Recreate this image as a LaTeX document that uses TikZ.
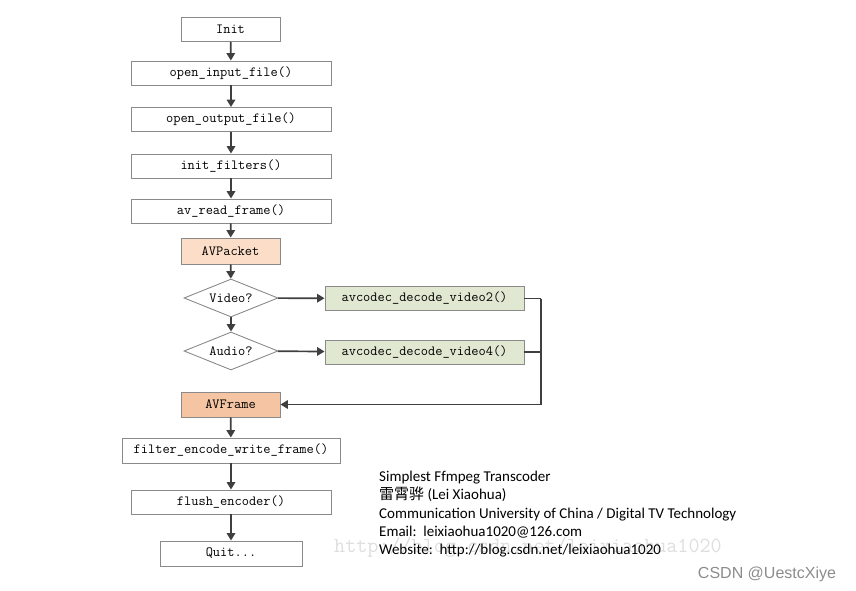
\documentclass[tikz,border=0pt]{standalone}
\usepackage{fontspec}
\newfontfamily\cjk{Noto Sans CJK SC}
\newfontfamily\notefont{Carlito}
\newfontfamily\markfont{Liberation Sans}
\usetikzlibrary{shapes.geometric,arrows.meta}
\definecolor{packetfill}{HTML}{FBDDC8}
\definecolor{framefill}{HTML}{F5C5A3}
\definecolor{decodefill}{HTML}{E1E8D2}
\definecolor{linegray}{HTML}{3F3F3F}
\definecolor{boxgray}{HTML}{8A8A8A}
\begin{document}
\begin{tikzpicture}[x=1pt,y=-1pt,
        box/.style={draw=boxgray,line width=0.9pt,fill=white,minimum height=24pt,inner sep=0pt,
                    font=\fontsize{14}{16}\selectfont\ttfamily},
        decide/.style={box,diamond,aspect=2.47,minimum width=94pt,minimum height=38pt},
        flow/.style={draw=linegray,line width=1.7pt,-{Triangle[length=7.5pt,width=8.5pt]}},
        link/.style={draw=linegray,line width=1.7pt}]

                        \useasboundingbox (0,0) rectangle (856,591);

                        \node[box,minimum width=99pt] (init) at (230.5,29.5) {Init};
                        \node[box,minimum width=200pt] (openin) at (231,73) {open\_input\_file()};
                        \node[box,minimum width=200pt] (openout) at (231,119.5) {open\_output\_file()};
                        \node[box,minimum width=200pt] (filters) at (231,166) {init\_filters()};
                        \node[box,minimum width=200pt] (readframe) at (231,211) {av\_read\_frame()};
                        \node[box,fill=packetfill,minimum width=99pt,minimum height=26pt] (packet) at (230.5,251) {AVPacket};
                        \node[decide] (video) at (231,298) {Video?};
                        \node[decide] (audio) at (231,351) {Audio?};
                        \node[box,fill=decodefill,minimum width=199pt] (video2) at (424.5,298.5) {avcodec\_decode\_video2()};
                        \node[box,fill=decodefill,minimum width=199pt] (video4) at (424.5,352) {avcodec\_decode\_video4()};
                        \node[box,fill=framefill,minimum width=99pt,minimum height=25pt] (frame) at (230.5,404.5) {AVFrame};
                        \node[box,minimum width=218pt,minimum height=25pt] (encode) at (231,450.5) {filter\_encode\_write\_frame()};
                        \node[box,minimum width=200pt] (flush) at (231,502) {flush\_encoder()};
                        \node[box,minimum width=142pt,minimum height=25pt] (quit) at (231,553.5) {Quit...};

                        \draw[flow] (init) -- (openin);
                        \draw[flow] (openin) -- (openout);
                        \draw[flow] (openout) -- (filters);
                        \draw[flow] (filters) -- (readframe);
                        \draw[flow] (readframe) -- (packet);
                        \draw[flow] (packet) -- (video);
                        \draw[flow] (video) -- (audio);
                        \draw[flow] (video) -- (video2);
                        \draw[flow] (audio) -- (video4);

                        \coordinate (join) at (541,298.5);
                        \draw[link] (video2) -- (join);
                        \draw[link] (video4) -- (join|-video4);
                        \draw[flow] (join) -- (join|-frame) -- (frame);

                        \draw[flow] (frame) -- (encode);
                        \draw[flow] (encode) -- (flush);
                        \draw[flow] (flush) -- (quit);

                        \node[text=black!13,font=\fontsize{21.5}{22}\selectfont\ttfamily] (mark) at (528,547) {http://blog.csdn.net/leixiaohua1020};
                        \node[anchor=north west,align=left,inner sep=0pt,font=\notefont\fontsize{15}{18.3}\selectfont] (credits) at (379,471)
                            {Simplest Ffmpeg Transcoder\\
                             {\cjk 雷霄骅} (Lei Xiaohua)\\
                             Communication University of China / Digital TV Technology\\
                             Email:\ \ leixiaohua1020@126.com\\
                             Website:\ \ http://blog.csdn.net/leixiaohua1020};
                        \node[text=black!45,font=\markfont\fontsize{16}{17}\selectfont] (csdn) at (767,574) {CSDN @UestcXiye};

                      \end{tikzpicture}
\end{document}
